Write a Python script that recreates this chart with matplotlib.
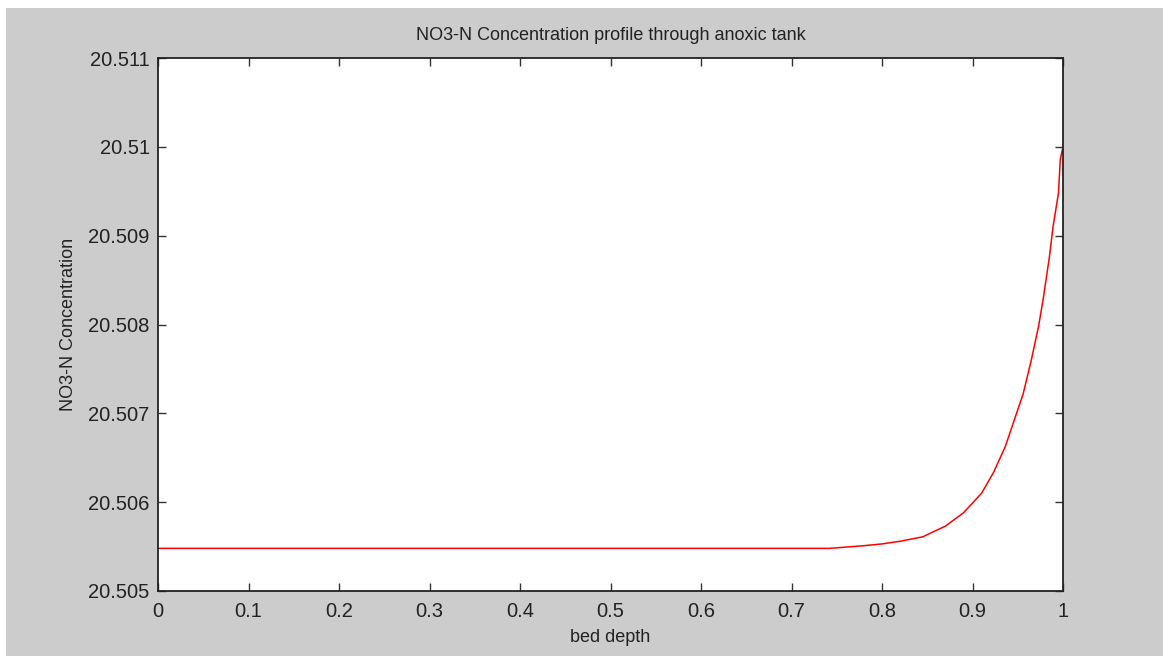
import matplotlib
matplotlib.use("Agg")
import matplotlib.pyplot as plt
from matplotlib.patches import Rectangle

# Data
depth = [0.0, 0.10, 0.20, 0.30, 0.40, 0.50, 0.60, 0.70, 0.742, 0.78, 0.80, 0.82,
         0.845, 0.87, 0.89, 0.91, 0.923, 0.936, 0.945, 0.956, 0.965, 0.973,
         0.978, 0.985, 0.989, 0.995, 0.997, 1.0]
conc = [20.50548, 20.50548, 20.50548, 20.50548, 20.50548, 20.50548, 20.50548,
        20.50548, 20.50548, 20.50551, 20.50553, 20.50556, 20.50561, 20.50573,
        20.50588, 20.50610, 20.50633, 20.50662, 20.50689, 20.50722, 20.50760,
        20.50798, 20.50828, 20.50876, 20.50910, 20.50948, 20.50986, 20.51000]

xticks = [0, 0.1, 0.2, 0.3, 0.4, 0.5, 0.6, 0.7, 0.8, 0.9, 1]
xticklabels = ["0", "0.1", "0.2", "0.3", "0.4", "0.5", "0.6", "0.7", "0.8", "0.9", "1"]
yticks = [20.505, 20.506, 20.507, 20.508, 20.509, 20.510, 20.511]
yticklabels = ["20.505", "20.506", "20.507", "20.508", "20.509", "20.51", "20.511"]

title = "NO3-N Concentration profile through anoxic tank"
xlabel = "bed depth"
ylabel = "NO3-N Concentration"

plt.rcParams['font.family'] = ['Liberation Sans', 'DejaVu Sans']

W, H = 1163, 657
fig = plt.figure(figsize=(W / 100, H / 100), dpi=100, facecolor='white')
fig.patches.append(Rectangle((6 / W, 1 / H), (W - 6) / W, (648) / H,
                             transform=fig.transFigure, facecolor='#cccccc',
                             edgecolor='none', zorder=-10))

left, right, top, bottom = 158, 1063, 58, 591
ax = fig.add_axes([left / W, 1 - bottom / H, (right - left) / W, (bottom - top) / H])
ax.set_facecolor('white')

ax.plot(depth, conc, color='#ff0000', lw=1.1)

ax.set_xlim(0, 1)
ax.set_ylim(20.505, 20.511)
ax.set_xticks(xticks)
ax.set_xticklabels(xticklabels)
ax.set_yticks(yticks)
ax.set_yticklabels(yticklabels)

txtc = '#222222'
ax.tick_params(direction='in', length=6, width=1.0, color='#333333',
               labelcolor=txtc, labelsize=14.5, top=True, right=True)
ax.tick_params(axis='y', pad=6)
ax.tick_params(axis='x', pad=8)
for s in ax.spines.values():
    s.set_color('#222222')
    s.set_linewidth(1.3)

ax.set_title(title, fontsize=13, color=txtc, pad=13)
ax.set_xlabel(xlabel, fontsize=13, color=txtc, labelpad=6)
ax.set_ylabel(ylabel, fontsize=13, color=txtc, labelpad=8)

fig.savefig("out.png", dpi=100, facecolor=fig.get_facecolor())
